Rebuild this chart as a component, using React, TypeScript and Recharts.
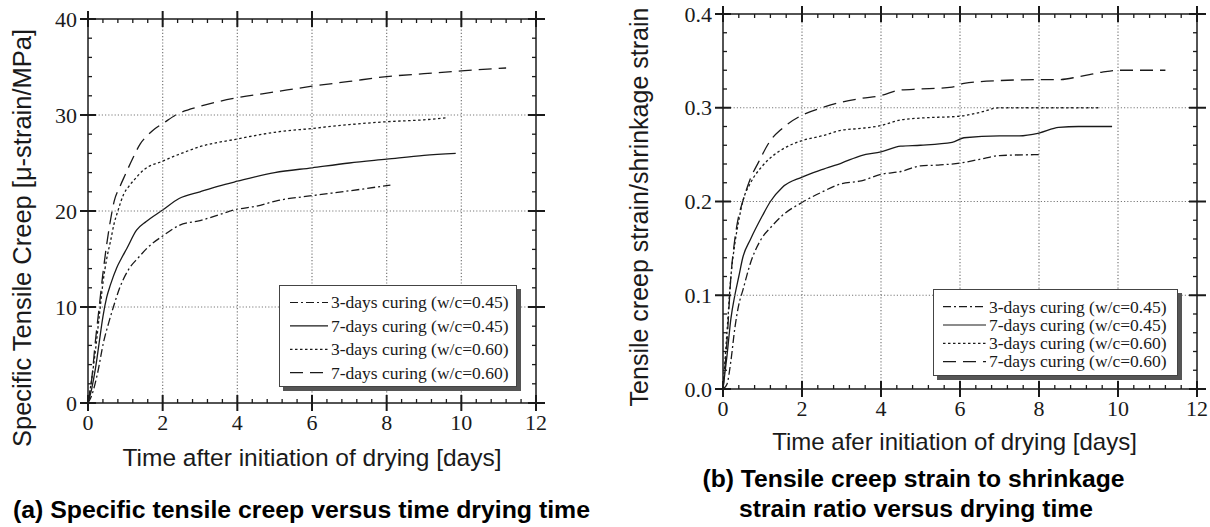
import { Legend, Line, LineChart, XAxis, YAxis } from 'recharts';

const SERIES_LABELS = [
  '3-days curing (w/c=0.45)',
  '7-days curing (w/c=0.45)',
  '3-days curing (w/c=0.60)',
  '7-days curing (w/c=0.60)',
];

// (a) specific tensile creep [µ-strain/MPa] vs days
const CREEP_3D_045 = [
  [0, 0], [0.1, 0.8], [0.25, 3], [0.42, 6.4], [0.55, 8.3], [0.68, 10], [0.85, 12], [1.12, 14.1],
  [1.34, 15.1], [1.6, 16.2], [2, 17.4], [2.44, 18.5], [3, 19], [3.5, 19.6], [3.9, 20.1], [4.5, 20.5],
  [5.1, 21.1], [6, 21.6], [7, 22.1], [8.1, 22.7],
];
const CREEP_7D_045 = [
  [0, 0], [0.1, 1.5], [0.2, 3.6], [0.3, 6.3], [0.4, 9], [0.5, 11], [0.6, 12.3], [0.77, 14.1],
  [0.9, 15.1], [1.04, 16.1], [1.3, 18], [1.56, 18.9], [2, 20.1], [2.44, 21.3], [3, 22], [3.5, 22.6],
  [4, 23.1], [5, 24], [6, 24.5], [7, 25], [8, 25.4], [9, 25.8], [9.85, 26],
];
const CREEP_3D_060 = [
  [0, 0], [0.1, 2.5], [0.2, 5.5], [0.3, 9], [0.4, 12.5], [0.5, 15], [0.6, 16.8], [0.7, 18.7],
  [0.8, 20], [0.95, 21.7], [1.1, 22.6], [1.25, 23.3], [1.5, 24.3], [2, 25.2], [2.5, 26], [3, 26.7],
  [4, 27.5], [5, 28.2], [6, 28.6], [7, 29], [8, 29.3], [9, 29.5], [9.6, 29.7],
];
const CREEP_7D_060 = [
  [0, 0], [0.1, 2.5], [0.2, 6.5], [0.3, 10], [0.4, 13.5], [0.5, 16.5], [0.6, 19], [0.7, 21],
  [0.85, 22.5], [1, 23.8], [1.2, 25.5], [1.4, 27], [1.6, 27.9], [1.8, 28.6], [2, 29.1], [2.35, 30],
  [3, 30.9], [3.5, 31.4], [4, 31.8], [5, 32.4], [6, 33], [7, 33.5], [8, 34], [9, 34.3], [10, 34.6],
  [11.2, 34.9],
];

// (b) tensile creep strain / shrinkage strain vs days
const RATIO_3D_045 = [
  [0, 0], [0.1, 0.005], [0.2, 0.03], [0.3, 0.065], [0.4, 0.09], [0.5, 0.105], [0.7, 0.135],
  [1, 0.162], [1.2, 0.172], [1.5, 0.185], [2, 0.199], [2.5, 0.21], [3, 0.219], [3.5, 0.222],
  [4, 0.229], [4.5, 0.232], [5, 0.238], [5.5, 0.239], [6, 0.241], [6.5, 0.245], [7, 0.249], [8, 0.25],
];
const RATIO_7D_045 = [
  [0, 0], [0.1, 0.035], [0.2, 0.075], [0.3, 0.1], [0.4, 0.12], [0.5, 0.14], [0.7, 0.16],
  [1, 0.185], [1.2, 0.2], [1.5, 0.215], [2, 0.226], [2.5, 0.234], [3, 0.241], [3.5, 0.249],
  [4, 0.253], [4.5, 0.259], [5, 0.26], [5.8, 0.263], [6.1, 0.268], [7, 0.27], [7.5, 0.27],
  [8, 0.273], [8.5, 0.279], [9, 0.28], [9.85, 0.28],
];
const RATIO_3D_060 = [
  [0, 0], [0.1, 0.06], [0.2, 0.12], [0.3, 0.155], [0.4, 0.18], [0.5, 0.2], [0.7, 0.22],
  [1, 0.238], [1.3, 0.25], [1.6, 0.258], [2, 0.265], [2.5, 0.27], [3, 0.276], [3.5, 0.278],
  [4, 0.281], [4.5, 0.287], [5, 0.289], [6, 0.291], [6.5, 0.295], [7, 0.3], [8, 0.3], [9.5, 0.3],
];
const RATIO_7D_060 = [
  [0, 0], [0.1, 0.05], [0.2, 0.12], [0.3, 0.16], [0.4, 0.185], [0.5, 0.2], [0.7, 0.225],
  [0.9, 0.242], [1.2, 0.265], [1.5, 0.278], [2, 0.292], [2.5, 0.3], [3, 0.306], [3.5, 0.31],
  [4, 0.313], [4.5, 0.319], [5, 0.32], [5.8, 0.322], [6.1, 0.326], [7, 0.329], [8, 0.33],
  [8.5, 0.33], [9, 0.333], [9.6, 0.338], [10, 0.34], [11.2, 0.34],
];

const DAY_MAJOR = [0, 2, 4, 6, 8, 10, 12];
const CREEP_MAJOR = [0, 10, 20, 30, 40];
const RATIO_MAJOR = [0, 0.1, 0.2, 0.3, 0.4];

// minor ticks every 0.4 d, 2 units, 0.02
const DAY_TICKS = Array.from({ length: 31 }, (_, i) => Math.round(i * 4) / 10);
const CREEP_TICKS = Array.from({ length: 21 }, (_, i) => i * 2);
const RATIO_TICKS = Array.from({ length: 21 }, (_, i) => Math.round(i * 2) / 100);

const INK = '#1a1a1a';
const GRID = '#7a7a7a';
const SERIF = '"Liberation Serif", "Times New Roman", serif';
const SANS = '"Liberation Sans", Arial, sans-serif';
const DASHES = ['8 3 2 3', undefined, '2.5 2.5', '13 7'];

const toRows = (pts: number[][]) => pts.map(([t, v]) => ({ t, v }));
const isMajor = (v: number, majors: number[]) => majors.some((m) => Math.abs(m - v) < 1e-9);

type Side = 'bottom' | 'top' | 'left' | 'right';

// ticks cross the frame; majors on bottom/left also carry label + dotted grid line
function makeTick(side: Side, majors: number[], span = 0, fmt?: (v: number) => string) {
  const inner = majors.slice(1, -1);
  return (props: any) => {
    const x = Number(props.x);
    const y = Number(props.y);
    const v = Number(props.payload.value);
    const major = isMajor(v, majors);
    const grid = span > 0 && isMajor(v, inner);
    const a = major ? 8 : 0;
    const b = major ? 8 : 4;
    let tickD = '';
    let gridD = '';
    if (side === 'bottom') {
      tickD = `M${x},${y + a}V${y - b}`;
      if (grid) gridD = `M${x},${y - 1}V${y - span}`;
    } else if (side === 'top') {
      tickD = `M${x},${y - a}V${y + b}`;
    } else if (side === 'left') {
      tickD = `M${x - a},${y}H${x + b}`;
      if (grid) gridD = `M${x + 1},${y}H${x + span}`;
    } else {
      tickD = `M${x + (major ? 9 : 0)},${y}H${x - b}`;
    }
    return (
      <g className="frame-tick">
        {gridD && <path d={gridD} stroke={GRID} strokeWidth={1.2} strokeDasharray="1.2 2" fill="none" />}
        <path d={tickD} stroke={INK} strokeWidth={major ? 2 : 1.3} fill="none" />
        {major && fmt && side === 'bottom' && (
          <text x={x} y={y + 27} textAnchor="middle" fill={INK} fontFamily={SERIF} fontSize={22}>
            {fmt(v)}
          </text>
        )}
        {major && fmt && side === 'left' && (
          <text x={x - 11} y={y + 7.5} textAnchor="end" fill={INK} fontFamily={SERIF} fontSize={22}>
            {fmt(v)}
          </text>
        )}
      </g>
    );
  };
}

function LegendBox({ w, h, rows, x1, x2, tx }: { w: number; h: number; rows: number[]; x1: number; x2: number; tx: number }) {
  return (
    <svg width={w + 5} height={h + 5} style={{ display: 'block' }}>
      <rect x={4} y={4} width={w} height={h} fill="#555" />
      <rect x={0.5} y={0.5} width={w - 1} height={h - 1} fill="#fff" stroke="#444" strokeWidth={1} />
      {SERIES_LABELS.map((name, i) => (
        <g key={name}>
          <line x1={x1} x2={x2} y1={rows[i]} y2={rows[i]} stroke={INK} strokeWidth={1.2} strokeDasharray={DASHES[i]} />
          <text x={tx} y={rows[i] + 5.8} fontFamily={SERIF} fontSize={17.5} fill={INK}>
            {name}
          </text>
        </g>
      ))}
    </svg>
  );
}

type PanelProps = {
  width: number;
  margin: { top: number; right: number; bottom: number; left: number };
  yWidth: number;
  xHeight: number;
  series: number[][][];
  yMax: number;
  yTicks: number[];
  yMajor: number[];
  yFmt: (v: number) => string;
  legend: { left: number; top: number; w: number; h: number; rows: number[]; x1: number; x2: number; tx: number };
};

function Panel(p: PanelProps) {
  const height = 527;
  const plotW = p.width - p.margin.left - p.margin.right - p.yWidth - 1;
  const plotH = height - p.margin.top - p.margin.bottom - p.xHeight - 1;
  return (
    <LineChart width={p.width} height={height} margin={p.margin}>
      <XAxis
        type="number"
        dataKey="t"
        domain={[0, 12]}
        ticks={DAY_TICKS}
        interval={0}
        height={p.xHeight}
        tickSize={0}
        tickMargin={0}
        tickLine={false}
        axisLine={{ stroke: INK, strokeWidth: 1.5 }}
        tick={makeTick('bottom', DAY_MAJOR, plotH, (v) => String(v))}
        allowDataOverflow
      />
      <XAxis
        xAxisId="top"
        orientation="top"
        type="number"
        dataKey="t"
        domain={[0, 12]}
        ticks={DAY_TICKS}
        interval={0}
        height={1}
        tickSize={0}
        tickMargin={0}
        tickLine={false}
        axisLine={{ stroke: INK, strokeWidth: 1.5 }}
        tick={makeTick('top', DAY_MAJOR)}
        allowDataOverflow
      />
      <YAxis
        type="number"
        domain={[0, p.yMax]}
        ticks={p.yTicks}
        interval={0}
        width={p.yWidth}
        tickSize={0}
        tickMargin={0}
        tickLine={false}
        axisLine={{ stroke: INK, strokeWidth: 1.5 }}
        tick={makeTick('left', p.yMajor, plotW, p.yFmt)}
        allowDataOverflow
      />
      <YAxis
        yAxisId="right"
        orientation="right"
        type="number"
        domain={[0, p.yMax]}
        ticks={p.yTicks}
        interval={0}
        width={1}
        tickSize={0}
        tickMargin={0}
        tickLine={false}
        axisLine={{ stroke: INK, strokeWidth: 1.5 }}
        tick={makeTick('right', p.yMajor)}
        allowDataOverflow
      />
      {p.series.map((pts, i) => (
        <Line
          key={SERIES_LABELS[i]}
          data={toRows(pts)}
          dataKey="v"
          name={SERIES_LABELS[i]}
          type="monotone"
          stroke={INK}
          strokeWidth={1.3}
          strokeDasharray={DASHES[i]}
          dot={false}
          activeDot={false}
          isAnimationActive={false}
        />
      ))}
      <Legend
        layout="vertical"
        align="center"
        verticalAlign="middle"
        wrapperStyle={{ left: p.legend.left, top: p.legend.top, width: p.legend.w + 5, height: p.legend.h + 5 }}
        content={() => <LegendBox {...p.legend} />}
      />
    </LineChart>
  );
}

export default function App() {
  return (
    <div style={{ position: 'absolute', left: 0, top: 0, width: 1210, height: 527, background: '#fff' }}>
      <div style={{ position: 'absolute', left: 0, top: 0 }}>
        <Panel
          width={600}
          margin={{ top: 18, right: 63, bottom: 0, left: 0 }}
          yWidth={88}
          xHeight={124}
          series={[CREEP_3D_045, CREEP_7D_045, CREEP_3D_060, CREEP_7D_060]}
          yMax={40}
          yTicks={CREEP_TICKS}
          yMajor={CREEP_MAJOR}
          yFmt={(v) => String(v)}
          legend={{ left: 279, top: 285, w: 238, h: 102, rows: [17.5, 40.9, 64.3, 87.7], x1: 11, x2: 49, tx: 52 }}
        />
      </div>
      <div style={{ position: 'absolute', left: 600, top: 0 }}>
        <Panel
          width={610}
          margin={{ top: 13, right: 12, bottom: 0, left: 0 }}
          yWidth={123}
          xHeight={138}
          series={[RATIO_3D_045, RATIO_7D_045, RATIO_3D_060, RATIO_7D_060]}
          yMax={0.4}
          yTicks={RATIO_TICKS}
          yMajor={RATIO_MAJOR}
          yFmt={(v) => v.toFixed(1)}
          legend={{ left: 333, top: 289, w: 245, h: 87, rows: [17.7, 36, 54.3, 72.6], x1: 10, x2: 53, tx: 56 }}
        />
      </div>
      <svg width={1210} height={527} style={{ position: 'absolute', left: 0, top: 0, pointerEvents: 'none' }}>
        <g fill={INK} fontFamily={SANS}>
          <text x={312} y={466} fontSize={24.5} textAnchor="middle">
            Time after initiation of drying [days]
          </text>
          <text x={954.5} y={450} fontSize={24} textAnchor="middle">
            Time afer initiation of drying [days]
          </text>
          <text transform="translate(31,238) rotate(-90)" fontSize={25.5} textAnchor="middle">
            Specific Tensile Creep [μ-strain/MPa]
          </text>
          <text transform="translate(648,207) rotate(-90)" fontSize={25} textAnchor="middle">
            Tensile creep strain/shrinkage strain
          </text>
        </g>
        <g fill="#000" fontFamily={SANS} fontWeight="bold" fontSize={24.7}>
          <text x={13} y={518} textLength={577} lengthAdjust="spacingAndGlyphs">
            (a) Specific tensile creep versus time drying time
          </text>
          <text x={913.5} y={487} textAnchor="middle">
            (b) Tensile creep strain to shrinkage
          </text>
          <text x={916} y={517} textAnchor="middle">
            strain ratio versus drying time
          </text>
        </g>
      </svg>
    </div>
  );
}
